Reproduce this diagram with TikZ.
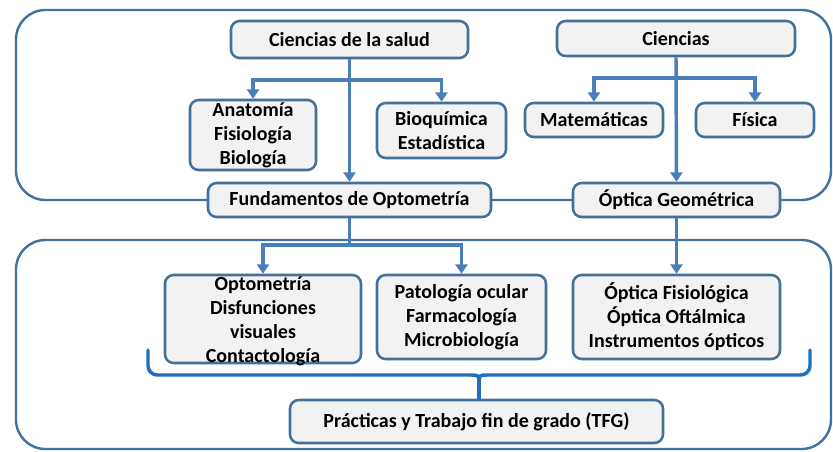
\documentclass[tikz,border=0pt]{standalone}
\usepackage{fontspec}
\setmainfont{Carlito}
\usetikzlibrary{arrows.meta}
\definecolor{bord}{HTML}{41719C}
\definecolor{arrc}{HTML}{4A7EBB}
\definecolor{bracec}{HTML}{1F6EC3}
\definecolor{fillc}{HTML}{F2F2F2}
\begin{document}
\begin{tikzpicture}[x=0.75pt,y=-0.75pt,
  bx/.style 2 args={draw=bord, fill=fillc, line width=1.9pt, rounded corners=6.5pt, inner sep=0pt, align=center,
    minimum width=#1*0.75pt, minimum height=#2*0.75pt,
    font=\fontsize{15}{18}\selectfont\bfseries, text=black},
  txt/.style={inner sep=0pt, align=center, font=\fontsize{15}{18}\selectfont\bfseries, text=black},
  outerbox/.style={draw=bord, line width=1.8pt, rounded corners=22pt},
  arr/.style={draw=arrc, line width=2.6pt, -{Triangle[width=9pt,length=7pt]}},
  bracepath/.style={draw=bracec, line width=2.6pt, line cap=round}]
\useasboundingbox (0,0) rectangle (833,451);
\fill[white] (0,0) rectangle (833,451);
% outer frames
\draw[outerbox] (16,10) rectangle (831,200);
\draw[outerbox] (16,240) rectangle (831,449);
% boxes
\node[bx={237}{37}] (salud) at (349.5,39.5) {Ciencias de la salud};
\node[bx={238}{35}] (cien) at (676,38.5) {Ciencias};
\node[bx={126}{70}] (anat) at (253,135) {Anatomía\\Fisiología\\Biología};
\node[bx={129}{55}] (bioq) at (441.5,130.5) {Bioquímica\\Estadística};
\node[bx={138}{34}] (mate) at (594,120) {Matemáticas};
\node[bx={118}{34}] (fis) at (755,120) {Física};
\node[bx={283}{34}] (fund) at (349.5,200) {Fundamentos de Optometría};
\node[bx={207}{34}] (geo) at (676.5,200) {Óptica Geométrica};
\node[bx={196}{88}] (opt) at (263,319) {};
\node[txt] (opttxt) at (263,321) {Optometría\\Disfunciones\\visuales\\Contactología};
\node[bx={169}{84}] (pat) at (461.5,317) {Patología ocular\\Farmacología\\Microbiología};
\node[bx={207}{84}] (fisio) at (676.5,317) {Óptica Fisiológica\\Óptica Oftálmica\\Instrumentos ópticos};
\node[bx={373}{43}] (prac) at (476.5,421.5) {Prácticas y Trabajo fin de grado (TFG)};
% connectors
\coordinate (b1) at (349.5,80);
\coordinate (b2) at (676,78);
\coordinate (b3) at (349.5,245);
\draw[arr] (salud.south) -- (fund.north);
\draw[arr] (b1) -| (anat.north);
\draw[arr] (b1) -| (bioq.north);
\draw[arr] (cien.south) -- (geo.north);
\draw[arr] (b2) -| (mate.north);
\draw[arr] (b2) -| (fis.north);
\draw[arr] (fund.south) -- (b3) -| (opt.north);
\draw[arr] (b3) -| (pat.north);
\draw[arr] (geo.south) -- (fisio.north);
% brace
\coordinate (bl) at (148,350);
\coordinate (br) at (810,350);
\coordinate (cusp) at (479,384);
\draw[bracepath, rounded corners=7pt] (bl) -- (148,375) -- (470,375);
\draw[bracepath, rounded corners=7pt] (488,375) -- (810,375) -- (br);
\draw[bracepath] (470,375) .. controls (479,375) .. (cusp);
\draw[bracepath] (488,375) .. controls (479,375) .. (cusp);
\draw[bracepath] (cusp) -- (cusp |- prac.north);
\end{tikzpicture}
\end{document}
